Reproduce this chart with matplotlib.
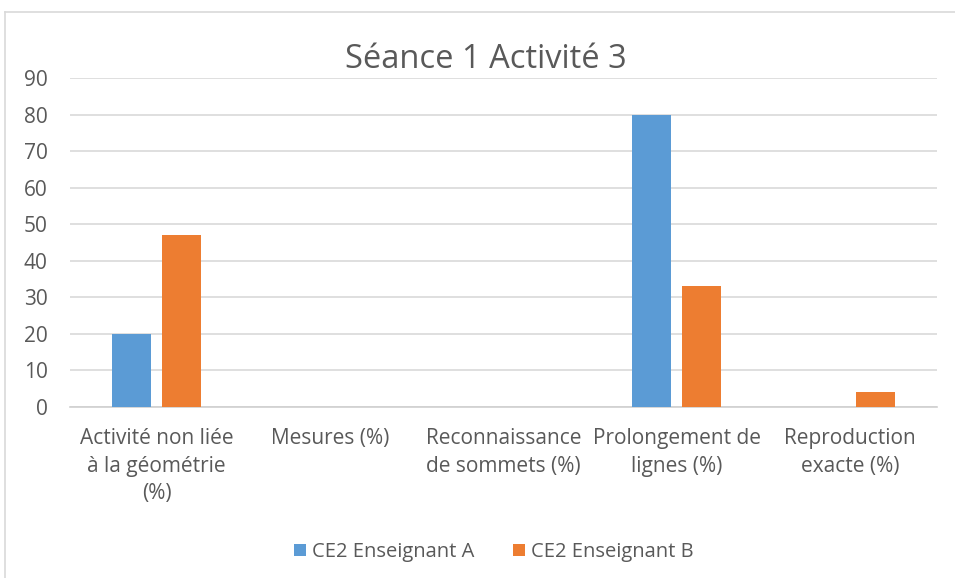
import matplotlib.pyplot as plt
from matplotlib.lines import Line2D
import numpy as np

plt.rcParams['font.family'] = ['Open Sans', 'DejaVu Sans']

categories = ["Activité non liée\nà la géométrie\n(%)", "Mesures (%)",
              "Reconnaissance\nde sommets (%)", "Prolongement de\nlignes (%)",
              "Reproduction\nexacte (%)"]
series_names = ["CE2 Enseignant A", "CE2 Enseignant B"]
values_a = [20, 0, 0, 80, 0]
values_b = [47, 0, 0, 33, 4]
y_ticks = [0, 10, 20, 30, 40, 50, 60, 70, 80, 90]

text_col = '#595959'
grid_col = '#d9d9d9'
colors = ['#5b9bd5', '#ed7d31']

fig = plt.figure(figsize=(9.55, 5.78), dpi=100)
ax = fig.add_axes([70 / 955, 1 - 407 / 578, 867 / 955, 329 / 578])

x = np.arange(len(categories))
w = 0.225
off = 0.144
ax.bar(x - off, values_a, w, color=colors[0], label=series_names[0], zorder=3)
ax.bar(x + off, values_b, w, color=colors[1], label=series_names[1], zorder=3)

ax.set_xlim(-0.5, len(categories) - 0.5)
ax.set_ylim(0, 90)
ax.set_yticks(y_ticks)
ax.set_xticks(x)
ax.set_xticklabels(categories, linespacing=1.42)
ax.yaxis.grid(True, color=grid_col, linewidth=1.2, zorder=0)
ax.set_axisbelow(True)
for s in ['top', 'right', 'left']:
    ax.spines[s].set_visible(False)
ax.spines['bottom'].set_color('#d0d0d0')
ax.spines['bottom'].set_linewidth(1.2)
ax.tick_params(axis='both', length=0, colors=text_col, labelsize=15)
ax.tick_params(axis='x', pad=15)
ax.tick_params(axis='y', pad=16)

fig.text(486 / 955, 1 - 59 / 578, "Séance 1 Activité 3", ha='center', va='center',
         fontsize=23.5, color=text_col)

fig.legend(loc='center', bbox_to_anchor=(494 / 955, 1 - 552 / 578), ncol=2,
           frameon=False, fontsize=14.5, labelcolor=text_col, handlelength=0.6,
           handleheight=0.6, handletextpad=0.3, columnspacing=1.9)

# chart border
fig.add_artist(Line2D([5 / 955, 1], [1 - 12 / 578, 1 - 12 / 578], color=grid_col, lw=1.2))
fig.add_artist(Line2D([5 / 955, 5 / 955], [0, 1 - 12 / 578], color=grid_col, lw=1.2))

fig.savefig('out.png', dpi=100)
